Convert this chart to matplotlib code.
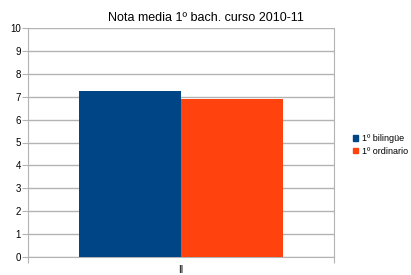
import matplotlib
matplotlib.use('Agg')
import matplotlib.pyplot as plt
from matplotlib.patches import Patch

plt.rcParams['font.family'] = ['Liberation Sans', 'DejaVu Sans']

categorias = ['II']
series = ['1º bilingüe', '1º ordinario']
valores = [7.25, 6.9]
colores = ['#004586', '#ff420e']
titulo = 'Nota media 1º bach. curso 2010-11'

fig = plt.figure(figsize=(4.11, 2.75), dpi=100)
ax = fig.add_axes([28/411., 18/275., 306/411., 229/275.])

anchura = 1/3.
for i, (s, v, c) in enumerate(zip(series, valores, colores)):
    ax.bar(1/6. + i*anchura, v, width=anchura, align='edge', color=c, label=s, zorder=3)

ax.set_xlim(0, 1)
ax.set_ylim(0, 10)
ax.set_yticks(range(0, 11))
ax.tick_params(axis='y', labelsize=7, length=4, color='#b3b3b3', pad=1)
ax.set_xticks([0, 1])
ax.set_xticklabels(['', ''])
ax.tick_params(axis='x', length=4, color='#b3b3b3')
ax.set_xticks([0.5], minor=True)
ax.set_xticklabels(categorias, minor=True, fontsize=7)
ax.tick_params(axis='x', which='minor', length=0, pad=6)
ax.grid(axis='y', color='#b3b3b3', linewidth=1, zorder=0)
for sp in ['left', 'right', 'bottom']:
    ax.spines[sp].set_color('#b3b3b3')
ax.spines['top'].set_visible(False)

fig.text(205.5/411., 1 - 18/275., titulo, ha='center', va='center', fontsize=9)

handles = [Patch(color=c, label=s) for s, c in zip(series, colores)]
fig.legend(handles=handles, loc='center left', bbox_to_anchor=(348/411., 1 - 145/275.),
           frameon=False, fontsize=6.5, handlelength=0.6, handleheight=0.6,
           handletextpad=0.4, labelspacing=0.4, borderpad=0)

fig.savefig('out.png', dpi=100)
